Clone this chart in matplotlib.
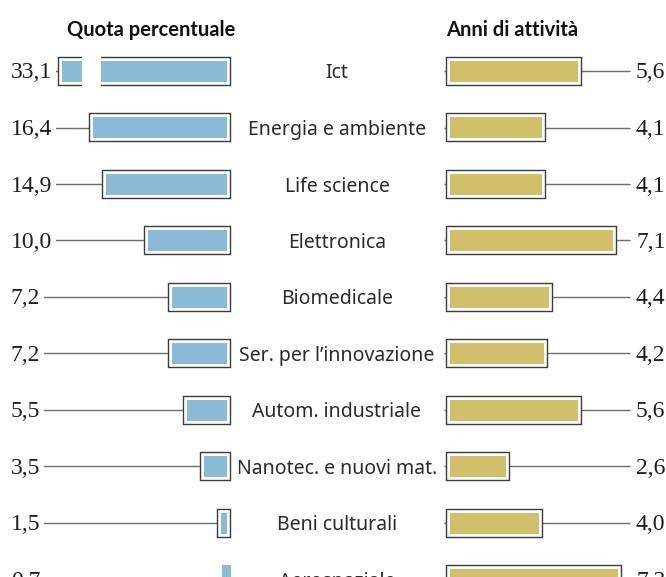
import matplotlib
matplotlib.use("Agg")
import matplotlib.pyplot as plt
import matplotlib.patheffects as pe
from matplotlib.patches import Rectangle
from matplotlib.transforms import blended_transform_factory

# ---------------- data ----------------
categories = ["Ict", "Energia e ambiente", "Life science", "Elettronica",
              "Biomedicale", "Ser. per l\u2019innovazione", "Autom. industriale",
              "Nanotec. e nuovi mat.", "Beni culturali", "Aerospaziale"]
quota = [33.1, 16.4, 14.9, 10.0, 7.2, 7.2, 5.5, 3.5, 1.5, 0.7]
anni = [5.6, 4.1, 4.1, 7.1, 4.4, 4.2, 5.6, 2.6, 4.0, 7.3]
quota_labels = ["33,1", "16,4", "14,9", "10,0", "7,2", "7,2", "5,5", "3,5", "1,5", "0,7"]
anni_labels = ["5,6", "4,1", "4,1", "7,1", "4,4", "4,2", "5,6", "2,6", "4,0", "7,3"]
title_left = "Quota percentuale"
title_right = "Anni di attivit\u00e0"

# ---------------- layout / style ----------------
W, H, DPI = 666, 577, 100
L_ORIGIN, L_SCALE = 234, 8.61      # px, px per unit
R_ORIGIN, R_SCALE = 444, 23.84
ROW0, ROW_STEP = 71, 56.5
INNER_H_PX = 21
INSET_L_PX, INSET_R_PX = 7, 6
L_CAP = 20.0                        # displayed length of the broken bar
BREAK_FROM, BREAK_TO = 15.5, 17.7   # gap of the broken bar
BLUE = "#8bbad5"
GOLD = "#d1bf6b"
FRAME = "#3c3c3c"
LINE = "#6e6e6e"
TXT = "#1e1e1e"
PX = 72.0 / DPI                     # points per pixel

frame_fx = [pe.Stroke(linewidth=8.4 * PX, foreground=FRAME, joinstyle="miter"),
            pe.Stroke(linewidth=5.6 * PX, foreground="white", joinstyle="miter"),
            pe.Normal()]

fig = plt.figure(figsize=(W / DPI, H / DPI), dpi=DPI)
fig.patch.set_facecolor("white")

ylim = ((H - ROW0) / ROW_STEP, -ROW0 / ROW_STEP)
bar_h = INNER_H_PX / ROW_STEP
base_off = 7.5 / ROW_STEP           # text baseline below row centre

axL = fig.add_axes([0, 0, L_ORIGIN / W, 1])
axL.set_xlim(L_ORIGIN / L_SCALE, 0)
axL.set_ylim(*ylim)
axL.axis("off")

axR = fig.add_axes([R_ORIGIN / W, 0, (W - R_ORIGIN) / W, 1])
axR.set_xlim(0, (W - R_ORIGIN) / R_SCALE)
axR.set_ylim(*ylim)
axR.axis("off")

num_font = dict(family=["Liberation Serif", "DejaVu Serif"], fontsize=17, color=TXT)
insetL = INSET_L_PX / L_SCALE
insetR = INSET_R_PX / R_SCALE
left_line_start = (L_ORIGIN - 11) / L_SCALE
right_line_end = (630 - R_ORIGIN) / R_SCALE
line_lw = 1.4 * PX

for i, (v, lab) in enumerate(zip(quota, quota_labels)):
    shown = min(v, L_CAP)
    axL.hlines(i, shown, left_line_start, color=LINE, lw=line_lw, zorder=1)
    if v < 1.0:
        axL.barh(i, v + 2 / L_SCALE, left=3.5 / L_SCALE, height=bar_h * 1.4,
                 color=BLUE, lw=0, zorder=3)
    else:
        axL.barh(i, shown - insetL, left=insetL, height=bar_h, color=BLUE, lw=0,
                 zorder=3, path_effects=frame_fx)
    if v > L_CAP:
        pad = 8 / ROW_STEP
        axL.add_patch(Rectangle((BREAK_FROM, i - bar_h / 2 - pad), BREAK_TO - BREAK_FROM,
                                bar_h + 2 * pad, facecolor="white", edgecolor="none", zorder=6))
    axL.text(11 / L_ORIGIN, i + base_off, lab,
             transform=blended_transform_factory(axL.transAxes, axL.transData),
             ha="left", va="baseline", zorder=4,
             bbox=dict(boxstyle="square,pad=0.15", facecolor="white", edgecolor="none"),
             **num_font)

for i, (v, lab) in enumerate(zip(anni, anni_labels)):
    axR.hlines(i, 0, right_line_end, color=LINE, lw=line_lw, zorder=1)
    axR.barh(i, v - insetR, left=insetR, height=bar_h, color=GOLD, lw=0,
             zorder=3, path_effects=frame_fx)
    axR.text((636 - R_ORIGIN) / (W - R_ORIGIN), i + base_off, lab,
             transform=blended_transform_factory(axR.transAxes, axR.transData),
             ha="left", va="baseline", **num_font)

mid = blended_transform_factory(fig.transFigure, axL.transData)
for i, c in enumerate(categories):
    axL.text(337 / W, i + base_off, c, transform=mid, ha="center", va="baseline",
             family=["Noto Sans", "DejaVu Sans"], fontsize=14, color="#2a2a2a",
             clip_on=False)

head = dict(family=["Lato", "DejaVu Sans"], fontweight="bold",
            fontsize=14.5, color="#111111", va="baseline")
fig.text(151 / W, 1 - 36 / H, title_left, ha="center", **head)
fig.text(446 / W, 1 - 36 / H, title_right, ha="left", **head)

fig.savefig("out.png", dpi=DPI, facecolor="white")
